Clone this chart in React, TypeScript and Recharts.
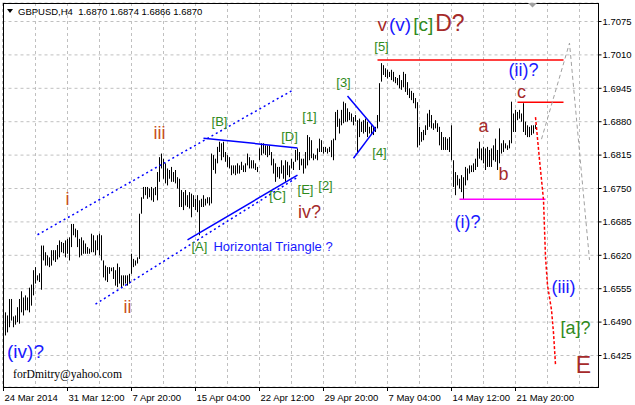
import {
  ComposedChart,
  Bar,
  Line,
  XAxis,
  YAxis,
  CartesianGrid,
  ReferenceLine,
  ReferenceDot,
} from "recharts";

const SANS = "'Liberation Sans', Arial, sans-serif";
const SERIF = "'Liberation Serif', 'Times New Roman', serif";

const SYMBOL = "GBPUSD,H4";
const LAST_OPEN = 1.687;
const LAST_CLOSE = 1.687;

// H4 bars, high / low
const highs = [
  1.6509, 1.6503, 1.6535, 1.6535, 1.6501, 1.6503, 1.6519, 1.6535, 1.655, 1.6538,
  1.6542, 1.6538, 1.6557, 1.6563, 1.6591, 1.6597, 1.6581, 1.6585, 1.6639, 1.6639,
  1.6626, 1.662, 1.6616, 1.663, 1.663, 1.663, 1.664, 1.6649, 1.6646, 1.6644,
  1.6649, 1.6652, 1.6655, 1.6681, 1.6681, 1.6672, 1.6669, 1.6652, 1.6655, 1.6649,
  1.6643, 1.6636, 1.6633, 1.6662, 1.6659, 1.6649, 1.6659, 1.6662, 1.6659, 1.661,
  1.66, 1.6597, 1.6597, 1.6596, 1.6597, 1.6591, 1.6604, 1.6597, 1.6581, 1.6581,
  1.6581, 1.6581, 1.6584, 1.6623, 1.6613, 1.661, 1.6616, 1.6701, 1.6733, 1.6753,
  1.6753, 1.6753, 1.675, 1.6753, 1.675, 1.6753, 1.6782, 1.6811, 1.6818, 1.6808,
  1.6799, 1.6789, 1.6786, 1.6792, 1.6782, 1.6786, 1.6772, 1.6769, 1.6747, 1.6743,
  1.6747, 1.6737, 1.6743, 1.674, 1.6737, 1.673, 1.6737, 1.6727, 1.673, 1.6737,
  1.673, 1.6733, 1.6733, 1.6818, 1.6815, 1.6808, 1.6831, 1.6841, 1.6838, 1.6841,
  1.6821, 1.6815, 1.6811, 1.6795, 1.6795, 1.6795, 1.6799, 1.6795, 1.6802, 1.6795,
  1.6799, 1.6818, 1.6811, 1.6805, 1.6805, 1.6799, 1.6792, 1.6828, 1.6838, 1.6838,
  1.6834, 1.6834, 1.6834, 1.6821, 1.6808, 1.6799, 1.6792, 1.6792, 1.6805, 1.6795,
  1.6805, 1.6802, 1.6795, 1.6808, 1.6802, 1.6825, 1.6828, 1.6821, 1.6808, 1.6808,
  1.6821, 1.6854, 1.685, 1.6844, 1.6818, 1.6815, 1.6828, 1.6847, 1.6844, 1.6831,
  1.6831, 1.6828, 1.6831, 1.6844, 1.6847, 1.6899, 1.6903, 1.6886, 1.6903, 1.6919,
  1.6916, 1.6906, 1.6899, 1.6896, 1.6889, 1.6893, 1.6883, 1.6886, 1.688, 1.6883,
  1.6886, 1.688, 1.687, 1.6873, 1.687, 1.687, 1.6893, 1.6955, 1.6994, 1.699,
  1.6984, 1.6981, 1.6977, 1.6981, 1.6977, 1.6967, 1.6965, 1.6971, 1.6961, 1.6977,
  1.6973, 1.6957, 1.6945, 1.694, 1.6936, 1.6926, 1.6918, 1.687, 1.686, 1.6864,
  1.6873, 1.6896, 1.6903, 1.6893, 1.6877, 1.6883, 1.6877, 1.687, 1.686, 1.685,
  1.685, 1.6847, 1.685, 1.6873, 1.6805, 1.6782, 1.6776, 1.6769, 1.6776, 1.6772,
  1.6792, 1.6789, 1.6795, 1.6795, 1.6799, 1.6808, 1.6828, 1.6841, 1.6828, 1.6831,
  1.6828, 1.6831, 1.6825, 1.6828, 1.6834, 1.6847, 1.6825, 1.6867, 1.6838, 1.6844,
  1.6838, 1.6834, 1.6844, 1.6919, 1.6896, 1.6903, 1.6899, 1.6903, 1.6896, 1.6916,
  1.688, 1.6873, 1.687, 1.6873, 1.6873, 1.6874,
];
const lows = [
  1.6464, 1.647, 1.648, 1.6493, 1.648, 1.6485, 1.649, 1.6487, 1.6509, 1.6503,
  1.6513, 1.6513, 1.6509, 1.6522, 1.6542, 1.6565, 1.6571, 1.6568, 1.6553, 1.661,
  1.66, 1.66, 1.6597, 1.66, 1.661, 1.6607, 1.6612, 1.6616, 1.6626, 1.6624,
  1.6616, 1.6623, 1.661, 1.6636, 1.6659, 1.6655, 1.6636, 1.6616, 1.662, 1.6623,
  1.6623, 1.6623, 1.6623, 1.6626, 1.6626, 1.662, 1.663, 1.662, 1.661, 1.6577,
  1.6571, 1.6568, 1.6584, 1.6589, 1.6574, 1.6561, 1.6558, 1.6565, 1.6558, 1.6561,
  1.6565, 1.6561, 1.6565, 1.6584, 1.6597, 1.66, 1.6604, 1.6613, 1.6701, 1.673,
  1.6737, 1.673, 1.6733, 1.6727, 1.6724, 1.6737, 1.6727, 1.6763, 1.6789, 1.6769,
  1.676, 1.6756, 1.6769, 1.6763, 1.6763, 1.676, 1.675, 1.6714, 1.6714, 1.6708,
  1.6717, 1.6714, 1.6711, 1.6694, 1.6714, 1.6708, 1.6704, 1.6659, 1.6714, 1.6714,
  1.6717, 1.6721, 1.6717, 1.6721, 1.6786, 1.6779, 1.6799, 1.6821, 1.6805, 1.6811,
  1.6802, 1.6792, 1.6789, 1.6776, 1.6779, 1.6776, 1.6779, 1.6779, 1.6786, 1.6782,
  1.6782, 1.6795, 1.6789, 1.6789, 1.6789, 1.6786, 1.6782, 1.6805, 1.6815, 1.6818,
  1.6815, 1.6811, 1.6815, 1.6795, 1.6779, 1.6763, 1.6772, 1.6769, 1.6779, 1.6769,
  1.6763, 1.6776, 1.6772, 1.6789, 1.6786, 1.6802, 1.6805, 1.6786, 1.6795, 1.6779,
  1.6789, 1.6795, 1.6805, 1.6809, 1.6805, 1.6808, 1.6805, 1.6821, 1.6821, 1.6818,
  1.6821, 1.6818, 1.6821, 1.6811, 1.6805, 1.6844, 1.687, 1.6857, 1.6873, 1.6877,
  1.688, 1.688, 1.6883, 1.688, 1.6873, 1.688, 1.6821, 1.685, 1.686, 1.6857,
  1.686, 1.685, 1.6857, 1.6854, 1.6854, 1.686, 1.6867, 1.688, 1.6958, 1.6971,
  1.6967, 1.6964, 1.6967, 1.6961, 1.6958, 1.6955, 1.6951, 1.6945, 1.6942, 1.6947,
  1.6938, 1.6932, 1.6926, 1.6922, 1.6916, 1.6906, 1.683, 1.6834, 1.6841, 1.6844,
  1.6854, 1.6864, 1.687, 1.6867, 1.6864, 1.6867, 1.686, 1.6834, 1.6825, 1.6825,
  1.6825, 1.6825, 1.6821, 1.6805, 1.6753, 1.6737, 1.6756, 1.675, 1.6743, 1.6728,
  1.6756, 1.6766, 1.6779, 1.6782, 1.6782, 1.6786, 1.6792, 1.6808, 1.6805, 1.6799,
  1.6786, 1.6792, 1.6792, 1.6792, 1.6805, 1.6802, 1.6786, 1.6799, 1.6818, 1.6821,
  1.6828, 1.6825, 1.6828, 1.6838, 1.686, 1.686, 1.6883, 1.6886, 1.688, 1.686,
  1.6854, 1.685, 1.685, 1.6854, 1.6857, 1.6866,
];

const SLOTS = 298; // bars plus the empty shift area on the right
const Y_MIN = 1.63637;
const Y_MAX = 1.7111;

const priceTicks = [1.6425, 1.649, 1.6555, 1.662, 1.6685, 1.675, 1.6815, 1.688, 1.6945, 1.701, 1.7075];
const dateLabels = [
  "24 Mar 2014",
  "31 Mar 12:00",
  "7 Apr 20:00",
  "15 Apr 04:00",
  "22 Apr 12:00",
  "29 Apr 20:00",
  "7 May 04:00",
  "14 May 12:00",
  "21 May 20:00",
];
const LABEL_EVERY = 32;
const GRID_EVERY = 16;

// lines: [bar1, price1, bar2, price2]
const channelLines = [
  [17, 1.666, 144, 1.694],
  [46, 1.6525, 147, 1.6772],
];
const triangleLines = [
  [100, 1.6848, 147, 1.6829],
  [92, 1.665, 147, 1.6776],
  [172, 1.693, 186, 1.6866],
  [175, 1.6809, 186, 1.6866],
];
const redLevels = [
  [187, 1.7, 280, 1.7],
  [257, 1.6918, 280, 1.6918],
];
const lowLevel = [228, 1.6729, 271, 1.6729];

// projected paths
const forecastBars = [266, 268, 270, 271, 272, 274, 275, 276];
const forecastPrices = [1.6889, 1.6806, 1.6728, 1.6617, 1.6562, 1.6514, 1.6469, 1.6407];
const altBars = [269, 283, 293];
const altPrices = [1.6846, 1.7033, 1.6611];

const ROMAN = "#c8501e";
const BROWN = "#a52a2a";
const BLUE = "#1a1aff";
const GREEN = "#2f8a1c";

type Part = [string, string, number];
type WaveLabel = { bar: number; price: number; parts: Part[]; anchor?: string; gap?: number; font?: string };

const waveLabels: WaveLabel[] = [
  { bar: 32, price: 1.6718, parts: [["i", ROMAN, 18]] },
  { bar: 62, price: 1.6508, parts: [["ii", ROMAN, 18]] },
  { bar: 78, price: 1.6846, parts: [["iii", ROMAN, 18]] },
  { bar: 153, price: 1.6693, parts: [["iv?", BROWN, 18]] },
  { bar: 11, price: 1.642, parts: [["(iv)?", BLUE, 19]] },
  { bar: 94, price: 1.6628, parts: [["[A]", GREEN, 13], ["Horizontal Triangle ?", BLUE, 13]], anchor: "start", gap: 6 },
  { bar: 108, price: 1.6872, parts: [["[B]", GREEN, 13]] },
  { bar: 137, price: 1.6728, parts: [["[C]", GREEN, 13]] },
  { bar: 143, price: 1.6842, parts: [["[D]", GREEN, 13]] },
  { bar: 151, price: 1.6739, parts: [["[E]", GREEN, 13]] },
  { bar: 153, price: 1.6881, parts: [["[1]", GREEN, 13]] },
  { bar: 161, price: 1.6747, parts: [["[2]", GREEN, 13]] },
  { bar: 170, price: 1.6947, parts: [["[3]", GREEN, 13]] },
  { bar: 188, price: 1.6811, parts: [["[4]", GREEN, 13]] },
  { bar: 189, price: 1.7018, parts: [["[5]", GREEN, 13]] },
  {
    bar: 187,
    price: 1.7056,
    parts: [["v", BROWN, 19], ["(v)", BLUE, 19], ["[c]", GREEN, 19], ["D?", BROWN, 23]],
    anchor: "start",
    gap: 2,
  },
  { bar: 232, price: 1.6673, parts: [["(i)?", BLUE, 18]] },
  { bar: 240, price: 1.686, parts: [["a", BROWN, 18]] },
  { bar: 250, price: 1.6767, parts: [["b", BROWN, 18]] },
  { bar: 259, price: 1.6927, parts: [["c", BROWN, 18]] },
  { bar: 260, price: 1.6968, parts: [["(ii)?", BLUE, 18]] },
  { bar: 280, price: 1.6547, parts: [["(iii)", BLUE, 18]] },
  { bar: 286, price: 1.6467, parts: [["[a]?", GREEN, 18]] },
  { bar: 290, price: 1.6391, parts: [["E", BROWN, 23]] },
  { bar: 32, price: 1.6381, parts: [["forDmitry@yahoo.com", "#000", 11.6]], font: SERIF },
];

const data = Array.from({ length: SLOTS }, (_, i) => {
  const f = forecastBars.indexOf(i);
  const a = altBars.indexOf(i);
  return {
    i,
    hl: i < highs.length ? [lows[i], highs[i]] : null,
    forecast: f >= 0 ? forecastPrices[f] : null,
    alt: a >= 0 ? altPrices[a] : null,
  };
});

const gridBars = Array.from({ length: Math.floor((SLOTS - 1) / GRID_EVERY) + 1 }, (_, k) => k * GRID_EVERY);

// thin high-low line for each bar
const BarLine = (p: any) => {
  if (p.x == null || p.height == null) return null;
  const top = Math.min(p.y, p.y + p.height);
  const h = Math.max(1, Math.abs(p.height));
  const x = Math.floor(p.x + p.width / 2) + 1;
  return <rect x={x} y={top} width={1} height={h} fill="#000" />;
};

const DateTick = (p: any) => {
  const idx = p.payload.value;
  if (idx % LABEL_EVERY !== 0) return null;
  const label = dateLabels[idx / LABEL_EVERY];
  if (!label) return null;
  return (
    <g>
      <line x1={p.x} x2={p.x} y1={p.y} y2={p.y + 4} stroke="#000" />
      <text x={p.x + 1} y={p.y + 14} fontSize={9.5} fontFamily={SANS} fill="#000" textAnchor="start">
        {label}
      </text>
    </g>
  );
};

const textShape = (l: WaveLabel) => (p: any) => (
  <text x={p.cx} y={p.cy} textAnchor={(l.anchor as any) ?? "middle"} fontFamily={l.font ?? SANS}>
    {l.parts.map(([t, c, s], k) => (
      <tspan key={k} fill={c} fontSize={s} dx={k > 0 ? l.gap ?? 0 : 0}>
        {t}
      </tspan>
    ))}
  </text>
);

const seg = (s: number[]) => [
  { x: s[0], y: s[1] },
  { x: s[2], y: s[3] },
];

export default function App() {
  const last = highs.length - 1;
  const title = `${SYMBOL}  ${LAST_OPEN.toFixed(4)} ${highs[last].toFixed(4)} ${lows[last].toFixed(4)} ${LAST_CLOSE.toFixed(4)}`;

  return (
    <div style={{ position: "absolute", left: 0, top: 0, width: 635, height: 405, background: "#fff" }}>
      <ComposedChart
        width={635}
        height={405}
        data={data}
        margin={{ top: 3, right: 0, bottom: 0, left: 2.5 }}
      >
        <CartesianGrid stroke="#c0c0c0" strokeDasharray="3 3" />
        <XAxis
          dataKey="i"
          type="category"
          ticks={gridBars}
          interval={0}
          height={18}
          axisLine={false}
          tickLine={false}
          tickSize={0}
          tickMargin={0}
          tick={(p: any) => <DateTick {...p} />}
        />
        <YAxis
          orientation="right"
          width={36.5}
          domain={[Y_MIN, Y_MAX]}
          allowDataOverflow
          ticks={priceTicks}
          interval={0}
          axisLine={false}
          tickSize={3}
          tickMargin={1}
          tickLine={{ stroke: "#000" }}
          tick={{ fill: "#000", fontSize: 9.5, fontFamily: SANS }}
          tickFormatter={(v: number) => v.toFixed(4)}
        />
        <Bar dataKey="hl" barSize={1} isAnimationActive={false} shape={(p: any) => <BarLine {...p} />} />

        {channelLines.map((s, k) => (
          <ReferenceLine key={`ch${k}`} segment={seg(s)} stroke="#0000ff" strokeWidth={1.5} strokeDasharray="2 3" />
        ))}
        {triangleLines.map((s, k) => (
          <ReferenceLine key={`tr${k}`} segment={seg(s)} stroke="#0000ff" strokeWidth={1.5} />
        ))}
        {redLevels.map((s, k) => (
          <ReferenceLine key={`rd${k}`} segment={seg(s)} stroke="#ff0000" strokeWidth={1.5} />
        ))}
        <ReferenceLine segment={seg(lowLevel)} stroke="#ff00ff" strokeWidth={1.5} />

        <Line
          dataKey="forecast"
          stroke="#ff0000"
          strokeWidth={1.5}
          strokeDasharray="3 2"
          dot={false}
          connectNulls
          isAnimationActive={false}
        />
        <Line
          dataKey="alt"
          stroke="#a0a0a0"
          strokeWidth={1}
          strokeDasharray="4 3"
          dot={false}
          connectNulls
          isAnimationActive={false}
        />

        {waveLabels.map((l, k) => (
          <ReferenceDot key={`lb${k}`} x={l.bar} y={l.price} r={0} shape={textShape(l)} />
        ))}
      </ComposedChart>

      <svg
        width={635}
        height={405}
        style={{ position: "absolute", left: 0, top: 0, pointerEvents: "none" }}
      >
        <rect x={3.5} y={3.5} width={595} height={384} fill="none" stroke="#000" />
        <polygon points="7,9 13,9 10,13" fill="#000" />
        <text x={18} y={14.5} fontSize={9.5} fontFamily={SANS} fill="#000" style={{ whiteSpace: "pre" }}>
          {title}
        </text>
        <polygon points="528,3 537,3 532.5,7.5" fill="#a0a0a0" />
      </svg>
    </div>
  );
}
